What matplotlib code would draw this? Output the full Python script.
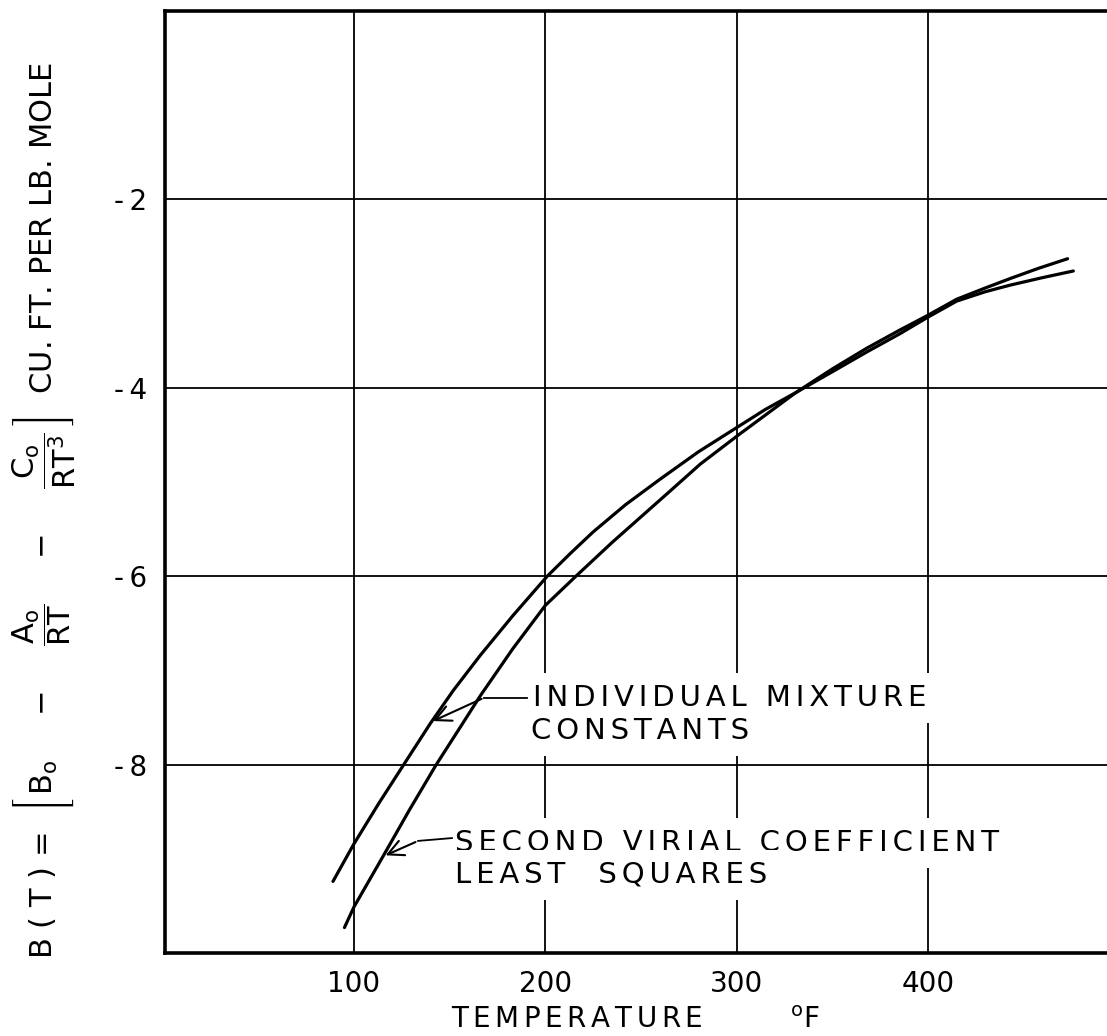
import numpy as np
import matplotlib.pyplot as plt

plt.rcParams['font.family'] = 'DejaVu Sans'
plt.rcParams['mathtext.fontset'] = 'dejavusans'
plt.rcParams['mathtext.default'] = 'regular'

# individual mixture constants
temp_imc = [89, 100, 113, 126, 140, 152, 166, 183, 201, 213, 225, 242, 260, 280,
            301, 315, 331, 350, 368, 385, 400, 415, 430, 443, 460, 476]
b_imc = [-9.24, -8.84, -8.41, -8.0, -7.56, -7.21, -6.84, -6.42, -6.0, -5.76, -5.53,
         -5.24, -4.97, -4.68, -4.41, -4.23, -4.05, -3.83, -3.62, -3.43, -3.25,
         -3.08, -2.98, -2.91, -2.83, -2.76]

# second virial coefficient, least squares
temp_lsq = [95, 100, 115, 129, 143, 155, 166, 183, 200, 216, 235, 250, 265, 281,
            301, 315, 331, 350, 368, 385, 400, 415, 430, 443, 458, 473]
b_lsq = [-9.73, -9.51, -8.98, -8.48, -8.0, -7.62, -7.27, -6.77, -6.31, -6.0,
         -5.64, -5.37, -5.10, -4.81, -4.50, -4.29, -4.05, -3.80, -3.58, -3.39,
         -3.23, -3.06, -2.94, -2.84, -2.73, -2.63]

xticks = [100, 200, 300, 400]
yticks = [-8, -6, -4, -2]


def spaced(s, gap='\u2006'):
    # lettering on the original is widely spaced
    return gap.join(s)


W, H = 1107, 1036
fig = plt.figure(figsize=(W / 100, H / 100), dpi=100)
ax = fig.add_axes([165 / W, 1 - 953 / H, 1 - 165 / W, (953 - 11) / H])

ax.plot(temp_imc, b_imc, color='black', lw=2.3, solid_capstyle='round',
        solid_joinstyle='round', zorder=3)
ax.plot(temp_lsq, b_lsq, color='black', lw=2.3, solid_capstyle='round',
        solid_joinstyle='round', zorder=3)

ax.set_xlim(1.2, 493.6)
ax.set_ylim(-10, 0)
ax.set_xticks(xticks)
ax.set_xticklabels([str(t) for t in xticks])
ax.set_yticks(yticks)
ax.set_yticklabels(['-\u2009' + str(-t) for t in yticks])
ax.tick_params(length=0, labelsize=20)
ax.tick_params(axis='x', pad=12)
ax.tick_params(axis='y', pad=13)
ax.grid(True, color='black', lw=1.3, zorder=1)

for s in ['left', 'bottom', 'top']:
    ax.spines[s].set_linewidth(2.6)
ax.spines['right'].set_visible(False)

ax.set_xlabel(spaced('TEMPERATURE') + '          $^{o}$F', fontsize=20, labelpad=6)
ylab = ('B ( T ) =' + r'  $\left[\,B_{o}\quad\;-\quad\;\dfrac{A_{o}}{RT}'
        r'\quad\;-\quad\;\dfrac{C_{o}}{RT^{3}}\,\right]$' + '  CU. FT. PER LB. MOLE')
ax.set_ylabel(ylab, fontsize=22)
ax.yaxis.set_label_coords(-0.092, 0.47)

box = dict(facecolor='white', edgecolor='none', pad=8)
ax.text(193.6, -7.29, spaced('INDIVIDUAL MIXTURE'), fontsize=21, va='center',
        ha='left', bbox=box, zorder=2)
ax.text(192.3, -7.64, spaced('CONSTANTS'), fontsize=21, va='center', ha='left',
        bbox=box, zorder=2)
ax.text(152.8, -8.83, spaced('SECOND VIRIAL COEFFICIENT'), fontsize=21,
        va='center', ha='left', bbox=box, zorder=2)
ax.text(152.8, -9.17, spaced('LEAST  SQUARES'), fontsize=21, va='center',
        ha='left', bbox=box, zorder=2)

# leader lines with arrows
ax.plot([190.4, 168], [-7.29, -7.29], color='black', lw=1.3, zorder=4)
ax.annotate('', xy=(140, -7.55), xytext=(168, -7.29),
            arrowprops=dict(arrowstyle='->', color='black', lw=1.5,
                            mutation_scale=28), zorder=4)
ax.plot([151.2, 133.5], [-8.78, -8.81], color='black', lw=1.3, zorder=4)
ax.annotate('', xy=(115.2, -8.975), xytext=(133.5, -8.81),
            arrowprops=dict(arrowstyle='->', color='black', lw=1.5,
                            mutation_scale=28), zorder=4)

fig.savefig('out.png', dpi=100)
